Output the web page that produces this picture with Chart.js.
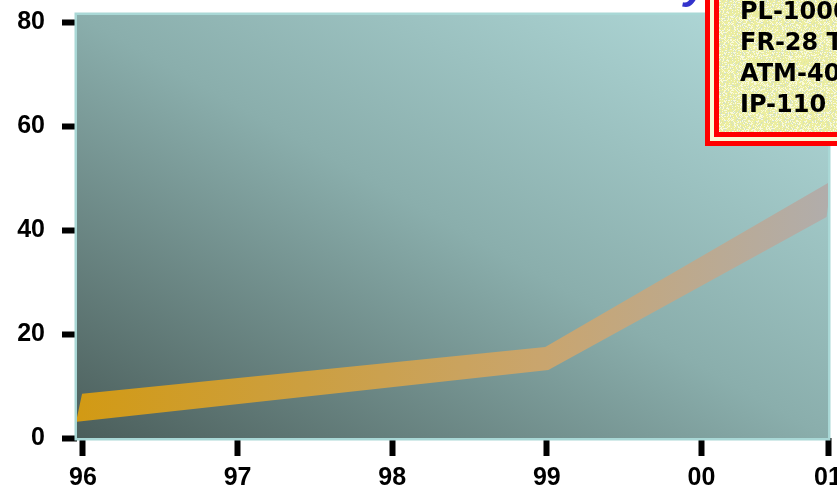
<!DOCTYPE html>
<html>
<head>
<meta charset="utf-8">
<script src="https://cdn.jsdelivr.net/npm/chart.js@4/dist/chart.umd.min.js"></script>
<style>
  html, body { margin: 0; padding: 0; background: #ffffff; }
  #wrap { width: 837px; height: 487px; }
</style>
</head>
<body>
<div id="wrap"><canvas id="c" width="837" height="487"></canvas></div>
<script>
// Year labels along the horizontal axis (index 0 = '96')
const yearLabels = ['96', '97', '98', '99', '00', '01'];
// Value axis ticks
const valueTicks = [0, 20, 40, 60, 80];

// Ribbon: lower and upper edges, position on the year axis and value
const lowerX = [-0.045, 3.01, 4.81];
const lowerY = [3.1, 13.1, 42.5];
const upperX = [-0.006, 2.99, 4.84];
const upperY = [8.5, 17.5, 49.4];

// Legend entries in the boxed key
const legendItems = ['PL-1000', 'FR-28 T', 'ATM-40', 'IP-110'];

const X_MIN = -0.0388;
const X_MAX = 4.819;
const Y_MAX = 81.35;

// Closed outline of the ribbon: lower edge forward, upper edge back
const ribbon = lowerX.map((x, i) => ({ x, y: lowerY[i] }))
  .concat(upperX.map((x, i) => ({ x, y: upperY[i] })).reverse());

// Speckled pale-yellow texture for the key box
function makeTexture() {
  const c = document.createElement('canvas');
  c.width = 48; c.height = 48;
  const g = c.getContext('2d');
  g.fillStyle = '#ecee9e';
  g.fillRect(0, 0, 48, 48);
  let s = 1234567;
  const next = () => { s = (s * 1103515245 + 12345) & 0x7fffffff; return s / 0x7fffffff; };
  for (let y = 0; y < 48; y++) {
    for (let x = 0; x < 48; x++) {
      const r = next();
      if (r < 0.28) { g.fillStyle = '#fafadc'; g.fillRect(x, y, 1, 1); }
      else if (r < 0.40) { g.fillStyle = '#d2e0c8'; g.fillRect(x, y, 1, 1); }
      else if (r < 0.46) { g.fillStyle = '#e2e6a0'; g.fillRect(x, y, 1, 1); }
    }
  }
  return c;
}

const plotBackground = {
  id: 'plotBackground',
  beforeDraw(chart) {
    const { ctx, chartArea: a } = chart;
    ctx.save();
    ctx.fillStyle = '#ffffff';
    ctx.fillRect(0, 0, chart.width, chart.height);
    const w = a.right - a.left, h = a.bottom - a.top;
    const len = 2 * w * h / Math.sqrt(w * w + h * h);
    const n = Math.sqrt(w * w + h * h);
    const ux = h / n, uy = -w / n;
    const g = ctx.createLinearGradient(a.left, a.bottom, a.left + ux * len, a.bottom + uy * len);
    g.addColorStop(0, '#4b5e5b');
    g.addColorStop(0.5, '#8aaeac');
    g.addColorStop(1, '#b3dcdc');
    ctx.fillStyle = g;
    ctx.fillRect(a.left, a.top, w, h);
    ctx.restore();
  }
};

const plotFrame = {
  id: 'plotFrame',
  afterDraw(chart) {
    const { ctx, chartArea: a } = chart;
    ctx.save();
    ctx.strokeStyle = '#a9d8d6';
    ctx.lineWidth = 2.5;
    ctx.strokeRect(a.left - 1.25, a.top - 1.25, a.right - a.left + 2.5, a.bottom - a.top + 2.5);

    // partial heading glyph above the plot
    ctx.fillStyle = '#3333cc';
    ctx.font = 'italic bold 44px "Liberation Sans"';
    ctx.textBaseline = 'alphabetic';
    ctx.fillText('y', 684, -2);

    // boxed key
    const x0 = 705, bottom = 146;
    ctx.fillStyle = '#ff0000';
    ctx.fillRect(x0, -10, 200, bottom + 10);
    ctx.fillStyle = '#fafad6';
    ctx.fillRect(x0 + 5, -10, 200, bottom - 5 + 10);
    ctx.fillStyle = '#ff0000';
    ctx.fillRect(x0 + 9, -10, 200, bottom - 9 + 10);
    ctx.fillStyle = ctx.createPattern(makeTexture(), 'repeat');
    ctx.fillRect(x0 + 14, -10, 200, bottom - 14 + 10);

    ctx.fillStyle = '#000000';
    ctx.font = 'bold 24px "DejaVu Sans"';
    ctx.textAlign = 'left';
    const base = [19, 50, 81, 112];
    legendItems.forEach((t, i) => ctx.fillText(t, 740, base[i]));
    ctx.restore();
  }
};

const tickFont = { family: '"Liberation Sans", Arial, sans-serif', size: 25, weight: 'bold' };

new Chart(document.getElementById('c'), {
  type: 'line',
  data: {
    datasets: [{
      data: ribbon,
      fill: 'shape',
      borderWidth: 0,
      pointRadius: 0,
      tension: 0,
      backgroundColor(context) {
        const a = context.chart.chartArea;
        if (!a) return '#c9a56e';
        const g = context.chart.ctx.createLinearGradient(a.left, 0, a.right, 0);
        g.addColorStop(0, '#d29a14');
        g.addColorStop(0.3, '#cc9f40');
        g.addColorStop(0.62, '#c9a56e');
        g.addColorStop(1, '#b1adab');
        return g;
      }
    }]
  },
  options: {
    responsive: false,
    animation: false,
    devicePixelRatio: 1,
    layout: { padding: { top: 15, right: 9, left: 0, bottom: 0 } },
    plugins: { legend: { display: false }, tooltip: { enabled: false } },
    scales: {
      x: {
        type: 'linear',
        min: X_MIN,
        max: X_MAX,
        afterBuildTicks(scale) {
          scale.ticks = yearLabels.map((_, i) => ({ value: i < yearLabels.length - 1 ? i : X_MAX }));
        },
        afterFit(scale) {
          scale.height = 49;
          scale.paddingLeft = 0;
          scale.paddingRight = 0;
        },
        border: { display: false },
        grid: { drawOnChartArea: false, drawTicks: true, tickLength: 18, tickWidth: 6, tickColor: '#000000' },
        ticks: {
          autoSkip: false,
          maxRotation: 0,
          padding: 7,
          color: '#000000',
          font: tickFont,
          callback(value, index) { return yearLabels[index]; }
        }
      },
      y: {
        type: 'linear',
        min: 0,
        max: Y_MAX,
        afterBuildTicks(scale) {
          scale.ticks = valueTicks.map(v => ({ value: v }));
        },
        afterFit(scale) {
          scale.width = 77;
          scale.paddingTop = 0;
          scale.paddingBottom = 0;
        },
        border: { display: false },
        grid: { drawOnChartArea: false, drawTicks: true, tickLength: 15, tickWidth: 6, tickColor: '#000000' },
        ticks: {
          padding: 17,
          color: '#000000',
          font: tickFont
        }
      }
    }
  },
  plugins: [plotBackground, plotFrame]
});
</script>
</body>
</html>
